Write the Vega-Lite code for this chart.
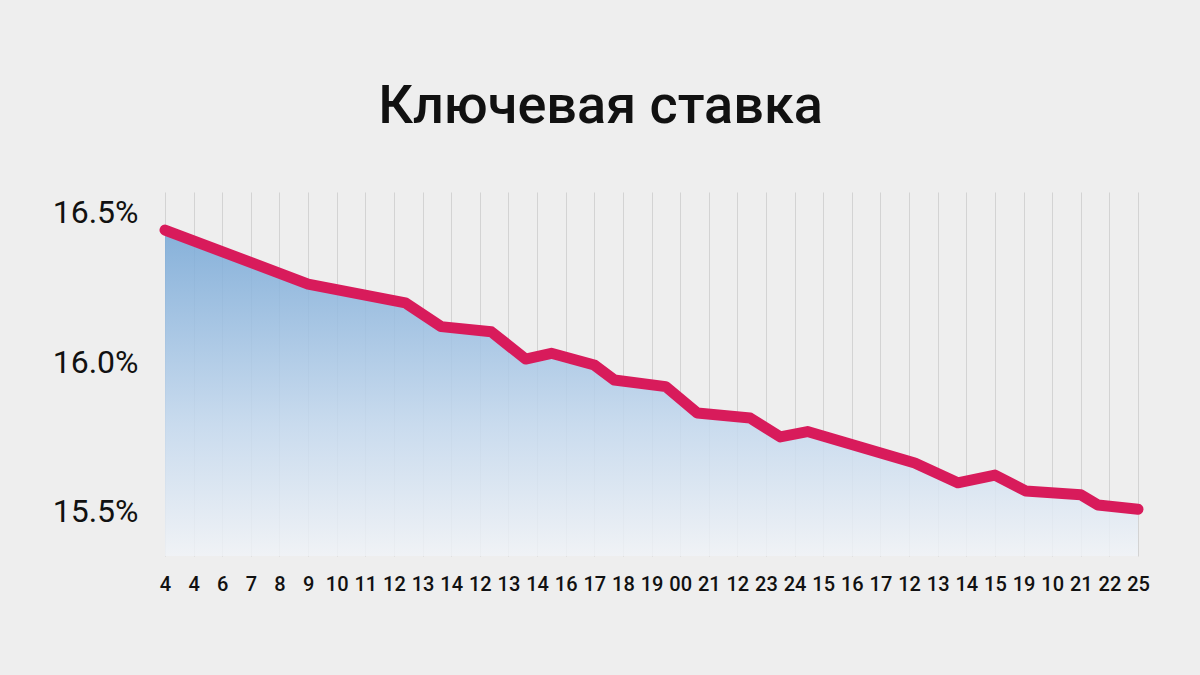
{
  "$schema": "https://vega.github.io/schema/vega-lite/v6.json",
  "autosize": {"type": "none"},
  "width": 973,
  "height": 364,
  "padding": {"left": 165, "top": 192, "right": 62, "bottom": 119},
  "background": "#eeeeee",
  "title": {
    "text": "Ключевая ставка",
    "font": "Roboto",
    "fontSize": 54,
    "fontWeight": 500,
    "color": "#111111",
    "anchor": "middle",
    "dx": -51,
    "offset": 58
  },
  "config": {
    "view": {"stroke": null},
    "axis": {"labelFont": "Roboto", "labelColor": "#111111", "domain": false, "ticks": false}
  },
  "data": {
    "values": [
      {"pos": 0, "rate": 16.44},
      {"pos": 5, "rate": 16.26},
      {"pos": 8.4, "rate": 16.197},
      {"pos": 9.65, "rate": 16.118},
      {"pos": 11.4, "rate": 16.101},
      {"pos": 12.6, "rate": 16.01},
      {"pos": 13.5, "rate": 16.029},
      {"pos": 15, "rate": 15.99},
      {"pos": 15.7, "rate": 15.94},
      {"pos": 17.5, "rate": 15.918},
      {"pos": 18.6, "rate": 15.83},
      {"pos": 20.45, "rate": 15.813},
      {"pos": 21.5, "rate": 15.75},
      {"pos": 22.45, "rate": 15.768},
      {"pos": 26.2, "rate": 15.663},
      {"pos": 27.7, "rate": 15.597},
      {"pos": 29, "rate": 15.623},
      {"pos": 30.07, "rate": 15.57},
      {"pos": 32, "rate": 15.557},
      {"pos": 32.6, "rate": 15.523},
      {"pos": 34, "rate": 15.509}
    ]
  },
  "encoding": {
    "x": {
      "field": "pos",
      "type": "quantitative",
      "scale": {"domain": [0, 34], "nice": false, "zero": false},
      "axis": {
        "title": null,
        "values": [0,1,2,3,4,5,6,7,8,9,10,11,12,13,14,15,16,17,18,19,20,21,22,23,24,25,26,27,28,29,30,31,32,33,34],
        "labelExpr": "['4','4','6','7','8','9','10','11','12','13','14','12','13','14','16','17','18','19','00','21','12','23','24','15','16','17','12','13','14','15','19','10','21','22','25'][datum.value]",
        "labelFontSize": 20,
        "labelFontWeight": 500,
        "labelPadding": 18,
        "labelOverlap": false,
        "labelBound": false,
        "labelFlush": false,
        "grid": true,
        "gridColor": "#d3d3d3",
        "gridWidth": 1
      }
    },
    "y": {
      "field": "rate",
      "type": "quantitative",
      "scale": {"domain": [15.353, 16.567], "nice": false, "zero": false},
      "axis": {
        "title": null,
        "values": [15.5, 16.0, 16.5],
        "labelExpr": "format(datum.value, '.1f') + '%'",
        "labelFontSize": 32,
        "labelPadding": 27,
        "grid": false
      }
    }
  },
  "layer": [
    {
      "mark": {
        "type": "area",
        "fillOpacity": 0.85,
        "fill": {
          "gradient": "linear",
          "x1": 0, "y1": 0, "x2": 0, "y2": 1,
          "stops": [
            {"offset": 0, "color": "#74a6d6"},
            {"offset": 0.6, "color": "#c3d8ee"},
            {"offset": 1, "color": "#f0f3f7"}
          ]
        }
      },
      "encoding": {"y2": {"datum": 15.353}}
    },
    {
      "mark": {
        "type": "line",
        "color": "#d81b5b",
        "strokeWidth": 11,
        "strokeCap": "round",
        "strokeJoin": "round"
      }
    }
  ]
}
